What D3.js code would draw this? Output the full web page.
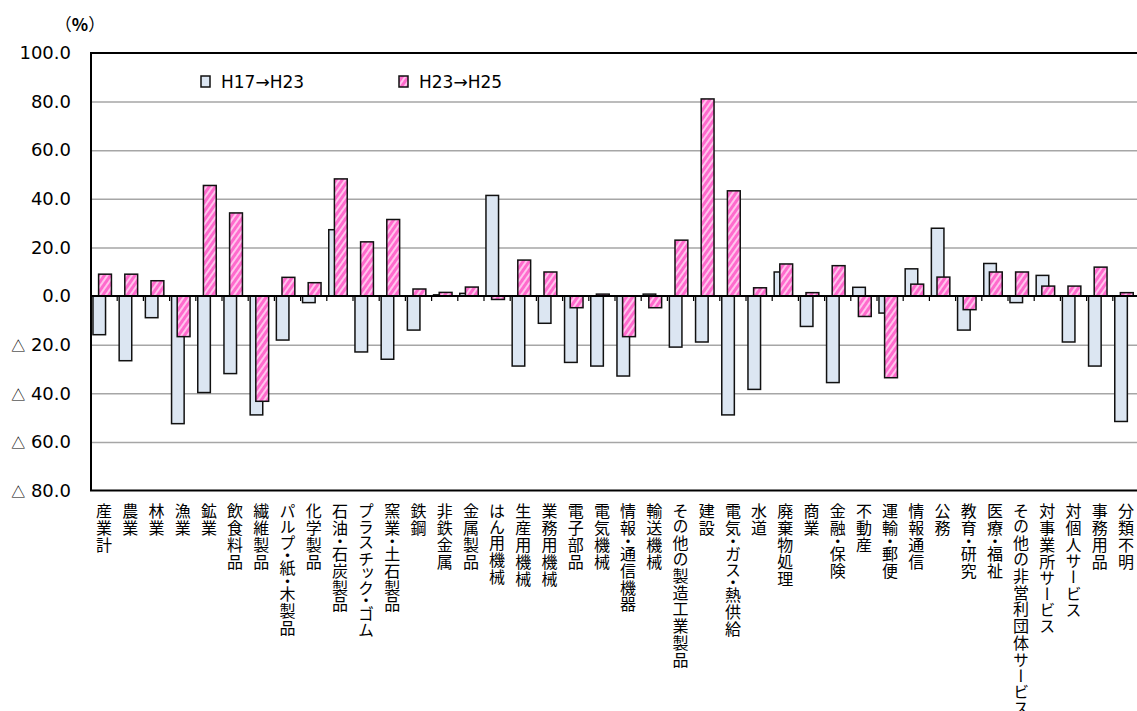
<!DOCTYPE html>
<html>
<head>
<meta charset="utf-8">
<script src="https://cdn.jsdelivr.net/npm/d3@7"></script>
<style>
  body { margin: 0; background: #fff; }
  svg { display: block; font-family: "Noto Sans CJK JP", "Noto Sans", sans-serif; }
</style>
</head>
<body>
<svg id="chart"></svg>
<script>
// categories (industry sectors)
const categories = [
  "産業計", "農業", "林業", "漁業", "鉱業", "飲食料品", "繊維製品", "パルプ・紙・木製品",
  "化学製品", "石油・石炭製品", "プラスチック・ゴム", "窯業・土石製品", "鉄鋼", "非鉄金属",
  "金属製品", "はん用機械", "生産用機械", "業務用機械", "電子部品", "電気機械",
  "情報・通信機器", "輸送機械", "その他の製造工業製品", "建設", "電気・ガス・熱供給", "水道",
  "廃棄物処理", "商業", "金融・保険", "不動産", "運輸・郵便", "情報通信", "公務",
  "教育・研究", "医療・福祉", "その他の非営利団体サービス", "対事業所サービス",
  "対個人サービス", "事務用品", "分類不明"
];

// H17→H23 change (%)
const h17to23 = [
  -15.9, -26.6, -8.9, -52.5, -39.7, -31.9, -48.9, -18.1,
  -2.7, 27.3, -23.0, -26.0, -14.0, 0.5,
  1.1, 41.4, -28.8, -11.2, -27.3, -28.8,
  -32.9, 0.8, -21.0, -18.9, -48.9, -38.4,
  9.9, -12.5, -35.6, 3.6, -7.0, 11.2, 27.9,
  -14.0, 13.4, -2.7, 8.5,
  -18.9, -28.8, -51.6
];

// H23→H25 change (%)
const h23to25 = [
  9.0, 9.0, 6.3, -16.7, 45.5, 34.2, -43.3, 7.7,
  5.5, 48.2, 22.3, 31.5, 2.9, 1.5,
  3.7, -1.4, 14.8, 9.9, -4.8, 0.8,
  -16.7, -4.8, 23.0, 81.1, 43.3, 3.4,
  13.2, 1.4, 12.5, -8.4, -33.6, 4.9, 7.8,
  -5.6, 9.9, 9.9, 4.1,
  4.1, 11.9, 1.4
];

const seriesNames = ["H17→H23", "H23→H25"];
const yTicks = [100, 80, 60, 40, 20, 0, -20, -40, -60, -80];

const width = 1137;
const height = 711;
const plot = { left: 91, top: 53, right: 1139, bottom: 490.5 };
const latin = '"DejaVu Sans", sans-serif';

const svg = d3.select("#chart")
  .attr("width", width)
  .attr("height", height);

// hatch pattern for the second series
const defs = svg.append("defs");
const pat = defs.append("pattern")
  .attr("id", "hatch")
  .attr("patternUnits", "userSpaceOnUse")
  .attr("width", 5)
  .attr("height", 5)
  .attr("patternTransform", "rotate(35)");
pat.append("rect").attr("width", 5).attr("height", 5).attr("fill", "#ff6acd");
pat.append("rect").attr("width", 2).attr("height", 5).attr("fill", "#ffc4ec");

// scales
const x = d3.scaleBand()
  .domain(categories)
  .range([plot.left, plot.right])
  .padding(0);

const y = d3.scaleLinear()
  .domain([-80, 100])
  .range([plot.bottom, plot.top]);

// gridlines
svg.append("g")
  .attr("transform", "translate(" + plot.left + ",0)")
  .call(d3.axisLeft(y).tickValues(yTicks.filter(d => d !== 0 && d !== 100 && d !== -80))
    .tickSize(-(plot.right - plot.left)).tickFormat(""))
  .call(g => g.select(".domain").remove())
  .call(g => g.selectAll("line").attr("stroke", "#a6a6a6").attr("stroke-width", 1.5));

// y labels
const yAxis = svg.append("g")
  .attr("transform", "translate(" + (plot.left - 20) + ",0)")
  .call(d3.axisLeft(y).tickValues(yTicks).tickSize(0).tickFormat(""))
  .attr("font-family", latin)
  .attr("font-size", 18)
  .call(g => g.select(".domain").remove());

yAxis.selectAll(".tick text")
  .attr("x", 0)
  .attr("fill", "#000")
  .each(function(d) {
    const t = d3.select(this);
    if (d < 0) {
      t.append("tspan").attr("font-size", 14)
        .attr("font-family", '"Noto Sans CJK JP", sans-serif').text("△");
      t.append("tspan").text(" " + d3.format(".1f")(-d));
    } else {
      t.text(d3.format(".1f")(d));
    }
  });

// bars
const bw = x.bandwidth();
svg.append("g")
  .selectAll("rect")
  .data(categories)
  .join("rect")
  .attr("x", d => x(d) + bw * 0.075)
  .attr("width", bw * 0.48)
  .attr("y", (d, i) => y(Math.max(0, h17to23[i])))
  .attr("height", (d, i) => Math.abs(y(h17to23[i]) - y(0)))
  .attr("fill", "#dce6f2")
  .attr("stroke", "#111")
  .attr("stroke-width", 1.5);

svg.append("g")
  .selectAll("rect")
  .data(categories)
  .join("rect")
  .attr("x", d => x(d) + bw * 0.29)
  .attr("width", bw * 0.49)
  .attr("y", (d, i) => y(Math.max(0, h23to25[i])))
  .attr("height", (d, i) => Math.abs(y(h23to25[i]) - y(0)))
  .attr("fill", "url(#hatch)")
  .attr("stroke", "#111")
  .attr("stroke-width", 1.5);

// zero line with category ticks
svg.append("line")
  .attr("x1", plot.left).attr("x2", plot.right)
  .attr("y1", y(0)).attr("y2", y(0))
  .attr("stroke", "#000").attr("stroke-width", 2);
svg.append("g")
  .selectAll("line")
  .data(categories.slice(1))
  .join("line")
  .attr("x1", d => x(d)).attr("x2", d => x(d))
  .attr("y1", y(0)).attr("y2", y(0) + 5)
  .attr("stroke", "#000").attr("stroke-width", 1.2);

// plot frame (left, top, bottom)
svg.append("path")
  .attr("d", "M" + plot.right + "," + plot.top + "H" + plot.left + "V" + plot.bottom + "H" + plot.right)
  .attr("fill", "none")
  .attr("stroke", "#000")
  .attr("stroke-width", 2);

// category labels (vertical)
svg.append("g")
  .selectAll("text")
  .data(categories)
  .join("text")
  .attr("x", d => x(d) + bw / 2)
  .attr("y", 503)
  .style("writing-mode", "vertical-rl")
  .style("font-feature-settings", '"vpal"')
  .style("font-size", "16px")
  .style("letter-spacing", "0.9px")
  .attr("fill", "#000")
  .text(d => d);

// unit
const unit = svg.append("text")
  .attr("x", 80)
  .attr("y", 31)
  .attr("text-anchor", "middle")
  .style("font-size", "17px");
unit.append("tspan").text("（");
unit.append("tspan").attr("font-weight", "bold").text("%");
unit.append("tspan").text("）");

// legend
const legend = svg.append("g");
const legendX = [201, 399];
seriesNames.forEach((name, i) => {
  legend.append("rect")
    .attr("x", legendX[i]).attr("y", 76)
    .attr("width", 9).attr("height", 11)
    .attr("fill", i === 0 ? "#dce6f2" : "url(#hatch)")
    .attr("stroke", "#111").attr("stroke-width", 1.5);
  legend.append("text")
    .attr("x", legendX[i] + 20).attr("y", 88)
    .attr("font-family", latin)
    .style("font-size", "17px")
    .text(name);
});
</script>
</body>
</html>
